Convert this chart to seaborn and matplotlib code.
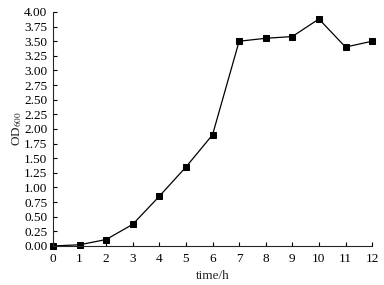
import numpy as np
import pandas as pd
import seaborn as sns
import matplotlib
matplotlib.use("Agg")
import matplotlib.pyplot as plt

# 生长曲线数据
hours = [0, 1, 2, 3, 4, 5, 6, 7, 8, 9, 10, 11, 12]
od600 = [0.00, 0.02, 0.11, 0.37, 0.85, 1.35, 1.90, 3.50, 3.55, 3.58, 3.88, 3.40, 3.50]
y_ticks = np.arange(0, 4.01, 0.25)

df = pd.DataFrame({"time": hours, "od": od600})

sns.set_style("ticks")
plt.rcParams['font.family'] = ['Liberation Serif', 'DejaVu Serif']
plt.rcParams['mathtext.fontset'] = 'stix'

fig = plt.figure(figsize=(3.84, 2.85), dpi=100)
ax = fig.add_axes([0.138, 0.137, 0.831, 0.821])

sns.lineplot(data=df, x="time", y="od", color="black", linewidth=0.9,
             marker="s", markersize=5, markeredgecolor="black", ax=ax, clip_on=False)

ax.set_xlim(0, 12)
ax.set_ylim(0, 4)
ax.set_xticks(hours)
ax.set_yticks(y_ticks)
ax.set_yticklabels([f"{v:.2f}" for v in y_ticks])
ax.tick_params(direction="in", length=3, width=0.8, labelsize=9.5, colors="black", pad=4)
ax.tick_params(axis="x", pad=5)
sns.despine(ax=ax)
for s in ["left", "bottom"]:
    ax.spines[s].set_linewidth(0.8)
ax.set_xlabel("time/h", fontsize=9.5, labelpad=4)
ax.set_ylabel(r"OD$_{600}$", fontsize=9.5, labelpad=0)

fig.savefig("out.png", dpi=100)
